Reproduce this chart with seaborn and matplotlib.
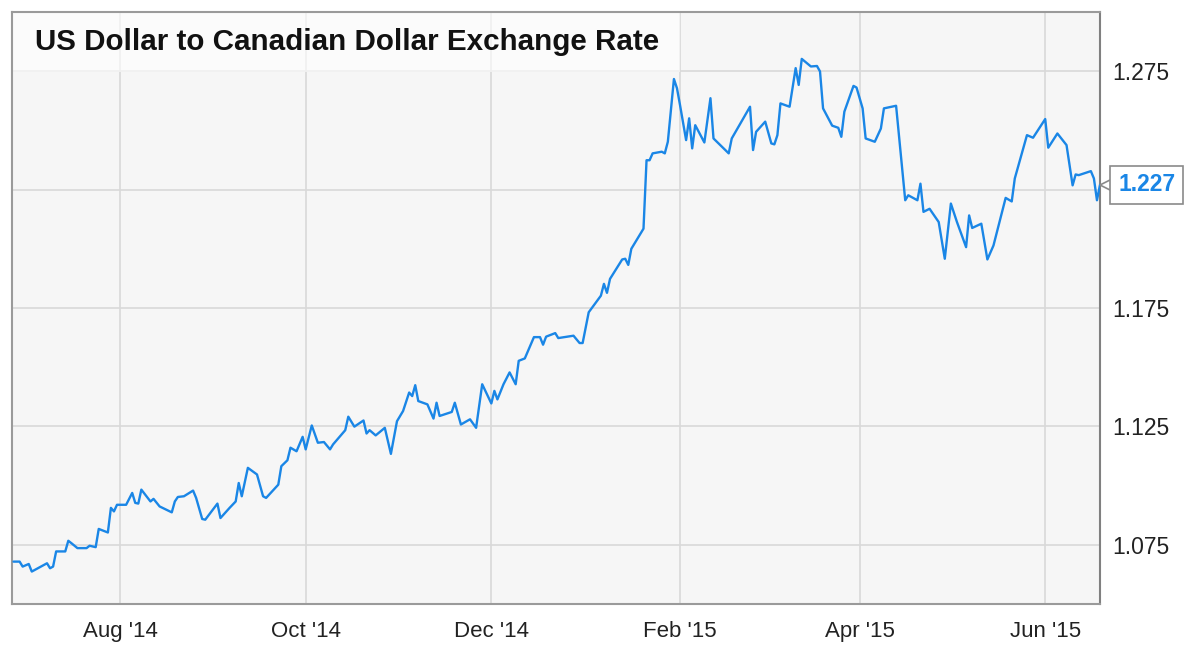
import numpy as np
import pandas as pd
import matplotlib
matplotlib.use("Agg")
import matplotlib.pyplot as plt
import matplotlib.dates as mdates
import matplotlib.patches as mpatches
from matplotlib.transforms import offset_copy
import seaborn as sns

# USD/CAD close
dates = [
    "2014-06-27", "2014-06-29", "2014-06-30", "2014-07-02", "2014-07-03", "2014-07-08",
    "2014-07-09", "2014-07-10", "2014-07-11", "2014-07-14", "2014-07-15", "2014-07-16",
    "2014-07-18", "2014-07-21", "2014-07-22", "2014-07-24", "2014-07-25", "2014-07-28",
    "2014-07-29", "2014-07-30", "2014-07-31", "2014-08-03", "2014-08-05", "2014-08-06",
    "2014-08-07", "2014-08-08", "2014-08-11", "2014-08-12", "2014-08-14", "2014-08-18",
    "2014-08-19", "2014-08-20", "2014-08-22", "2014-08-25", "2014-08-26", "2014-08-28",
    "2014-08-29", "2014-09-02", "2014-09-03", "2014-09-06", "2014-09-08", "2014-09-09",
    "2014-09-10", "2014-09-12", "2014-09-15", "2014-09-17", "2014-09-18", "2014-09-22",
    "2014-09-23", "2014-09-25", "2014-09-26", "2014-09-28", "2014-09-30", "2014-10-01",
    "2014-10-03", "2014-10-05", "2014-10-07", "2014-10-09", "2014-10-10", "2014-10-14",
    "2014-10-15", "2014-10-17", "2014-10-20", "2014-10-21", "2014-10-22", "2014-10-24",
    "2014-10-27", "2014-10-29", "2014-10-31", "2014-11-02", "2014-11-04", "2014-11-05",
    "2014-11-06", "2014-11-07", "2014-11-10", "2014-11-12", "2014-11-13", "2014-11-14",
    "2014-11-18", "2014-11-19", "2014-11-21", "2014-11-24", "2014-11-26", "2014-11-28",
    "2014-12-01", "2014-12-02", "2014-12-03", "2014-12-05", "2014-12-07", "2014-12-09",
    "2014-12-10", "2014-12-12", "2014-12-15", "2014-12-17", "2014-12-18", "2014-12-19",
    "2014-12-22", "2014-12-23", "2014-12-28", "2014-12-30", "2014-12-31", "2015-01-02",
    "2015-01-06", "2015-01-07", "2015-01-08", "2015-01-09", "2015-01-13", "2015-01-14",
    "2015-01-15", "2015-01-16", "2015-01-20", "2015-01-21", "2015-01-22", "2015-01-23",
    "2015-01-26", "2015-01-27", "2015-01-28", "2015-01-30", "2015-01-31", "2015-02-01",
    "2015-02-03", "2015-02-04", "2015-02-05", "2015-02-06", "2015-02-09", "2015-02-11",
    "2015-02-12", "2015-02-17", "2015-02-18", "2015-02-24", "2015-02-25", "2015-02-26",
    "2015-03-01", "2015-03-03", "2015-03-04", "2015-03-05", "2015-03-06", "2015-03-09",
    "2015-03-11", "2015-03-12", "2015-03-13", "2015-03-16", "2015-03-18", "2015-03-19",
    "2015-03-20", "2015-03-23", "2015-03-25", "2015-03-26", "2015-03-27", "2015-03-30",
    "2015-03-31", "2015-04-02", "2015-04-03", "2015-04-06", "2015-04-08", "2015-04-09",
    "2015-04-13", "2015-04-16", "2015-04-17", "2015-04-20", "2015-04-21", "2015-04-22",
    "2015-04-24", "2015-04-27", "2015-04-29", "2015-05-01", "2015-05-03", "2015-05-06",
    "2015-05-07", "2015-05-08", "2015-05-11", "2015-05-13", "2015-05-15", "2015-05-19",
    "2015-05-21", "2015-05-22", "2015-05-26", "2015-05-28", "2015-06-01", "2015-06-02",
    "2015-06-05", "2015-06-08", "2015-06-10", "2015-06-11", "2015-06-12", "2015-06-16",
    "2015-06-17", "2015-06-18", "2015-06-19",
]
rate = [
    1.0679, 1.0679, 1.0658, 1.0669, 1.0637, 1.0672,
    1.0651, 1.0658, 1.0722, 1.0722, 1.0767, 1.0757,
    1.0736, 1.0736, 1.0746, 1.0740, 1.0817, 1.0802,
    1.0906, 1.0891, 1.0919, 1.0919, 1.0969, 1.0927,
    1.0924, 1.0983, 1.0933, 1.0944, 1.0912, 1.0887,
    1.0933, 1.0952, 1.0955, 1.0979, 1.0948, 1.0859,
    1.0856, 1.0924, 1.0863, 1.0906, 1.0933, 1.1011,
    1.0955, 1.1075, 1.1047, 1.0955, 1.0948, 1.1004,
    1.1082, 1.1107, 1.1160, 1.1145, 1.1206, 1.1153,
    1.1254, 1.1181, 1.1184, 1.1153, 1.1174, 1.1234,
    1.1291, 1.1249, 1.1275, 1.1220, 1.1234, 1.1212,
    1.1244, 1.1134, 1.1272, 1.1315, 1.1393, 1.1378,
    1.1424, 1.1357, 1.1343, 1.1283, 1.1350, 1.1294,
    1.1311, 1.1350, 1.1258, 1.1280, 1.1244, 1.1428,
    1.1347, 1.1400, 1.1364, 1.1428, 1.1478, 1.1428,
    1.1527, 1.1537, 1.1627, 1.1627, 1.1595, 1.1629,
    1.1644, 1.1623, 1.1633, 1.1602, 1.1602, 1.1732,
    1.1802, 1.1852, 1.1814, 1.1873, 1.1955, 1.1958,
    1.1932, 1.2000, 1.2085, 1.2374, 1.2374, 1.2403,
    1.2410, 1.2403, 1.2452, 1.2717, 1.2678, 1.2607,
    1.2459, 1.2551, 1.2424, 1.2522, 1.2449, 1.2636,
    1.2466, 1.2403, 1.2466, 1.2600, 1.2417, 1.2494,
    1.2537, 1.2445, 1.2441, 1.2480, 1.2614, 1.2600,
    1.2763, 1.2692, 1.2802, 1.2770, 1.2772, 1.2749,
    1.2593, 1.2520, 1.2511, 1.2473, 1.2579, 1.2688,
    1.2681, 1.2593, 1.2466, 1.2452, 1.2508, 1.2593,
    1.2604, 1.2205, 1.2226, 1.2205, 1.2275, 1.2156,
    1.2169, 1.2113, 1.1958, 1.2191, 1.2113, 1.2007,
    1.2141, 1.2088, 1.2106, 1.1955, 1.2014, 1.2215,
    1.2200, 1.2297, 1.2480, 1.2469, 1.2548, 1.2427,
    1.2487, 1.2438, 1.2268, 1.2314, 1.2311, 1.2328,
    1.2297, 1.2205, 1.2270,
]
y_ticks = [1.075, 1.125, 1.175, 1.225, 1.275]
# the 1.225 label sits under the last-value flag, so it is not shown
y_tick_labels = ["1.075", "1.125", "1.175", "", "1.275"]
y_range = (1.05, 1.30)
last_label = "1.227"
title = "US Dollar to Canadian Dollar Exchange Rate"

LINE = "#1a86e6"
GRID = "#d9d9d9"
EDGE = "#9a9a9a"

df = pd.DataFrame({"date": pd.to_datetime(dates), "rate": rate})

sns.set_theme(style="white", rc={
    "axes.facecolor": "#f6f6f6",
    "axes.edgecolor": EDGE,
    "grid.color": GRID,
})
plt.rcParams["font.family"] = ["Liberation Sans", "DejaVu Sans"]

fig = plt.figure(figsize=(11.98, 6.56), dpi=100)
ax = fig.add_axes([12 / 1198, 1 - 604 / 656, 1088 / 1198, 592 / 656])

sns.lineplot(data=df, x="date", y="rate", ax=ax, color=LINE, linewidth=1.7, zorder=3)

ax.set_xlim(df["date"].iloc[0] - pd.Timedelta(hours=12), df["date"].iloc[-1])
ax.set_ylim(*y_range)
ax.set_xlabel("")
ax.set_ylabel("")

ax.xaxis.set_major_locator(mdates.MonthLocator(bymonth=[2, 4, 6, 8, 10, 12]))
ax.xaxis.set_major_formatter(mdates.DateFormatter("%b '%y"))
ax.set_yticks(y_ticks)
ax.set_yticklabels(y_tick_labels)
ax.yaxis.tick_right()
ax.tick_params(axis="x", length=0, pad=12, labelsize=16, labelcolor="#222222")
ax.tick_params(axis="y", length=0, pad=9, labelsize=16.5, labelcolor="#222222")

ax.grid(True, which="major", color=GRID, linewidth=1.2, zorder=0)
ax.set_axisbelow(True)
for side in ["left", "top", "bottom"]:
    ax.spines[side].set_color(EDGE)
    ax.spines[side].set_linewidth(1.5)
ax.spines["right"].set_color("#808080")
ax.spines["right"].set_linewidth(1.5)

# title panel sitting inside the plot area
ax.add_patch(mpatches.Rectangle((0, 0.8986), 0.614, 0.1014, transform=ax.transAxes,
                                facecolor="white", alpha=0.6, edgecolor="none", zorder=1.5))
ax.text(0.021, 0.950, title, transform=ax.transAxes, ha="left", va="center",
        fontsize=21.3, fontweight="bold", color="#111111", zorder=4)

# last value flag on the right axis
last_x = df["date"].iloc[-1]
last_y = df["rate"].iloc[-1]
ptr = offset_copy(ax.transData, fig=fig, x=8, y=0, units="dots")
ax.plot([last_x], [last_y], marker="<", markersize=12, markerfacecolor="white",
        markeredgecolor="#8a8a8a", markeredgewidth=1.2, transform=ptr, clip_on=False, zorder=5)
ax.annotate(last_label, xy=(last_x, last_y), xytext=(18, 0), textcoords="offset pixels",
            ha="left", va="center", fontsize=16.5, fontweight="bold", color=LINE,
            bbox=dict(boxstyle="square,pad=0.33", facecolor="white", edgecolor="#8a8a8a",
                      linewidth=1.2),
            annotation_clip=False, zorder=6)

fig.savefig("out.png", dpi=100, facecolor="white")
